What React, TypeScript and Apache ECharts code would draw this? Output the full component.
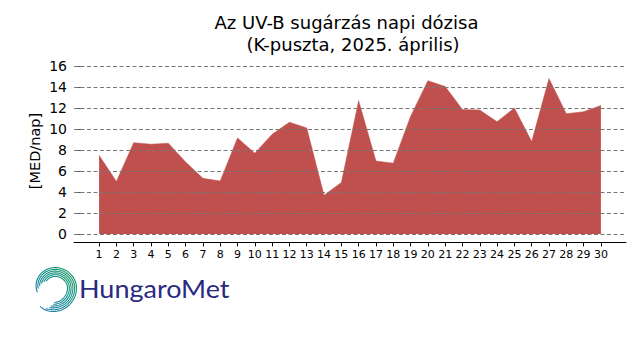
import React, { useEffect, useRef } from "react";
import * as echarts from "echarts";

const days = [1, 2, 3, 4, 5, 6, 7, 8, 9, 10, 11, 12, 13, 14, 15, 16, 17, 18, 19, 20, 21, 22, 23, 24, 25, 26, 27, 28, 29, 30];
const uvbDose = [7.5, 5.0, 8.7, 8.55, 8.65, 6.85, 5.3, 5.05, 9.15, 7.7, 9.5, 10.65, 10.1, 3.7, 4.9, 12.7, 6.95, 6.75, 11.2, 14.6, 14.05, 11.85, 11.8, 10.7, 12.0, 8.8, 14.8, 11.45, 11.65, 12.25];
const yTicks = [0, 2, 4, 6, 8, 10, 12, 14, 16];
const titleLines = ["Az UV-B sugárzás napi dózisa", "(K-puszta, 2025. április)"];
const yAxisTitle = "[MED/nap]";
const logoText = "HungaroMet";

const FONT = "DejaVu Sans";

function buildLogo(): any[] {
  const cx = 53;
  const cy = 288;
  const strands = 6;
  const out: any[] = [];
  const grad = new echarts.graphic.LinearGradient(
    76, 264, 30, 310,
    [
      { offset: 0, color: "#1a9a55" },
      { offset: 0.5, color: "#12908f" },
      { offset: 1, color: "#2a6cba" },
    ],
    true
  );
  for (let j = 0; j < strands; j++) {
    const startDeg = 165 + (strands - 1 - j) * 12;
    const endDeg = j === strands - 1 ? 488 : 445 + j * 6;
    const pts: number[][] = [];
    for (let d = startDeg; d <= endDeg; d += 4) {
      const t = Math.min(1, Math.max(0, (d - 160) / 190));
      const r = 7 + 7.5 * t + j * 1.8 - (j === strands - 1 && d > 460 ? (d - 460) * 0.04 : 0);
      const a = (d * Math.PI) / 180;
      pts.push([cx + r * Math.cos(a), cy + r * Math.sin(a)]);
    }
    out.push({
      type: "polyline",
      shape: { points: pts },
      style: { fill: null, stroke: grad, lineWidth: 1.1 },
      silent: true,
    });
  }
  return out;
}

export default function App() {
  const ref = useRef<HTMLDivElement>(null);
  useEffect(() => {
    if (!ref.current) return;
    const chart = echarts.init(ref.current, null, { renderer: "svg" });
    const option: any = {
      animation: false,
      backgroundColor: "#ffffff",
      grid: { left: 74, right: 14, top: 57.6, bottom: 117.6, containLabel: false },
      xAxis: {
        type: "value",
        min: -0.45,
        max: 31.45,
        splitLine: { show: false },
        axisLine: { show: true, onZero: false, lineStyle: { color: "#000", width: 1 } },
        axisTick: { show: true, customValues: days, length: 4, lineStyle: { color: "#000" } },
        axisLabel: { customValues: days, color: "#000", fontFamily: FONT, fontSize: 11, margin: 7 },
      },
      yAxis: {
        type: "value",
        min: -0.8,
        max: 16.8,
        splitLine: { show: false },
        axisLine: { show: false },
        axisTick: { show: true, customValues: yTicks, length: 4, lineStyle: { color: "#555" } },
        axisLabel: { customValues: yTicks, color: "#000", fontFamily: FONT, fontSize: 14, margin: 7 },
      },
      series: [
        {
          type: "line",
          data: [],
          z: 1,
          markLine: {
            silent: true,
            symbol: "none",
            label: { show: false },
            lineStyle: { type: [4, 2.5], color: "#777", width: 1 },
            data: yTicks.map((v) => ({ yAxis: v })),
          },
        },
        {
          type: "line",
          z: 2,
          data: days.map((d, i) => [d, uvbDose[i]]),
          symbol: "none",
          lineStyle: { width: 0.5, color: "#C0504D" },
          areaStyle: { color: "#C0504D", opacity: 1, origin: 0 },
        },
      ],
      graphic: [
        {
          type: "text",
          x: 346.5,
          y: 22,
          style: { text: titleLines[0], font: `18px '${FONT}'`, fill: "#000", align: "center", verticalAlign: "middle" },
        },
        {
          type: "text",
          x: 353,
          y: 44.5,
          style: { text: titleLines[1], font: `18px '${FONT}'`, fill: "#000", align: "center", verticalAlign: "middle" },
        },
        {
          type: "text",
          x: 35,
          y: 151,
          rotation: Math.PI / 2,
          style: { text: yAxisTitle, font: `14.5px '${FONT}'`, fill: "#000", align: "center", verticalAlign: "middle" },
        },
        ...buildLogo(),
        {
          type: "text",
          x: 79,
          y: 288,
          scaleX: 1.08,
          style: { text: logoText, font: `25px 'Lato'`, fill: "#2a2a80", align: "left", verticalAlign: "middle" },
        },
      ],
    };
    chart.setOption(option);
    return () => chart.dispose();
  }, []);
  return <div ref={ref} style={{ width: 640, height: 360, position: "absolute", left: 0, top: 0 }} />;
}
